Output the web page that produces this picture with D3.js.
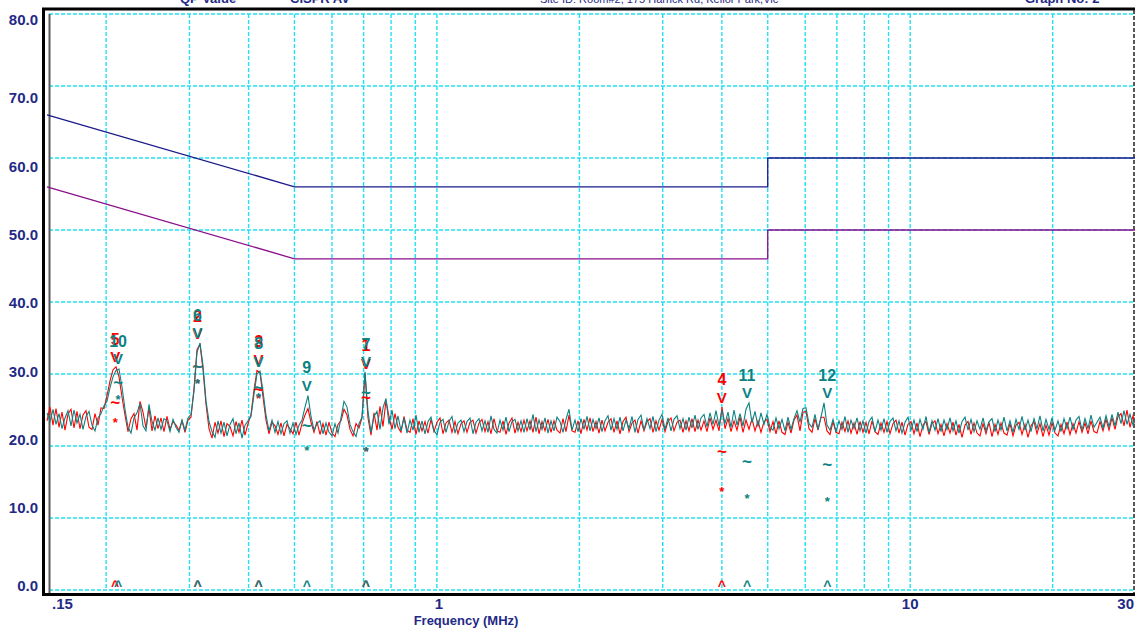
<!DOCTYPE html>
<html>
<head>
<meta charset="utf-8">
<script src="https://cdn.jsdelivr.net/npm/d3@7"></script>
<style>
  html, body { margin: 0; padding: 0; background: #ffffff; }
  svg { display: block; font-family: Arial, "Liberation Sans", sans-serif; }
</style>
</head>
<body>
<svg id="chart" width="1135" height="631"></svg>
<script>
// ---- axis ticks ----
const freqTicks = [0.15, 1, 10, 30];
const freqTickLabels = [".15", "1", "10", "30"];
const freqGrid = [0.2, 0.3, 0.4, 0.5, 0.6, 0.7, 0.8, 0.9, 1, 2, 3, 4, 5, 6, 7, 8, 9, 10, 20];
const levelTicks = [0, 10, 20, 30, 40, 50, 60, 70, 80];
const levelTickLabels = ["0.0", "10.0", "20.0", "30.0", "40.0", "50.0", "60.0", "70.0", "80.0"];

// ---- header captions ----
const headerTexts = ["QP Value", "CISPR AV", "Site ID: Room#2, 175 Harrick Rd, Keilor Park,Vic", "Graph No: 2"];

// ---- CISPR limit lines (MHz, dBuV) ----
const limitFreq = [0.15, 0.5, 5, 5, 30];
const qpLimit = [66, 56, 56, 60, 60];
const avLimit = [56, 46, 46, 50, 50];

// ---- sweep: 364 log-spaced points from 0.15 MHz to 30 MHz ----
const sweepStart = 0.15, sweepStop = 30;

const traceRed = [
  23.5, 25.4, 22.9, 25.2, 22.6, 24.7, 22.2, 24.4, 25.1, 22.5, 24.8, 22.4, 24.3, 24.9, 22.6, 22.3, 24.5, 22.9, 25.3, 25.2,
  27.0, 29.0, 30.6, 31.0, 29.6, 26.8, 24.3, 22.0, 23.8, 24.5, 22.2, 26.2, 24.7, 22.5, 25.3, 22.1, 24.2, 22.4, 23.9, 22.0,
  24.1, 22.3, 23.4, 22.9, 22.2, 23.5, 21.9, 23.6, 24.0, 28.0, 33.4, 34.1, 30.6, 25.8, 22.4, 21.1, 23.3, 21.8, 23.5, 21.3,
  23.1, 22.7, 21.4, 23.4, 21.9, 23.6, 21.5, 23.1, 24.4, 27.8, 30.5, 30.2, 26.8, 23.6, 21.7, 23.3, 22.8, 21.6, 23.2, 21.4,
  23.0, 22.4, 21.7, 23.3, 21.5, 23.1, 24.3, 25.2, 23.3, 21.9, 23.4, 21.6, 23.1, 21.5, 23.3, 21.8, 21.3, 23.0, 23.5, 25.1,
  24.3, 22.3, 21.4, 23.1, 22.5, 23.9, 30.1, 23.9, 21.5, 24.6, 22.2, 25.5, 22.7, 26.3, 24.1, 22.3, 24.5, 22.6, 21.9, 24.1,
  22.2, 21.9, 23.8, 21.6, 23.5, 22.1, 23.4, 21.8, 23.7, 22.0, 23.3, 23.9, 21.7, 23.2, 23.6, 21.9, 23.4, 21.7, 23.1, 23.5,
  21.9, 23.3, 23.6, 21.8, 23.2, 23.7, 22.0, 23.4, 21.7, 23.8, 22.1, 21.9, 23.5, 21.6, 23.2, 23.9, 21.8, 23.3, 22.0, 23.6,
  22.1, 23.5, 21.9, 24.0, 21.7, 23.4, 22.1, 23.7, 21.9, 23.5, 22.2, 21.8, 23.8, 22.0, 24.3, 22.1, 21.9, 23.5, 21.7, 23.7,
  22.2, 23.9, 22.0, 23.4, 21.8, 23.6, 22.1, 23.3, 23.8, 21.9, 23.5, 21.7, 23.4, 24.0, 22.0, 23.2, 23.6, 21.8, 23.5, 22.1,
  23.4, 23.8, 21.9, 23.5, 22.2, 23.7, 22.0, 23.4, 23.9, 22.1, 23.3, 23.6, 21.9, 23.5, 22.1, 23.8, 22.0, 23.6, 22.2, 23.5,
  22.0, 23.9, 22.3, 23.6, 22.1, 25.4, 22.4, 23.8, 22.0, 23.5, 22.2, 24.0, 21.9, 23.6, 22.3, 23.8, 22.1, 23.5, 21.9, 23.4,
  23.7, 22.0, 23.4, 21.7, 23.5, 21.9, 21.6, 23.3, 21.8, 23.6, 24.3, 22.1, 24.7, 24.8, 22.4, 21.9, 23.8, 22.2, 24.0, 24.0,
  22.1, 21.6, 23.4, 21.9, 21.7, 23.3, 22.0, 23.5, 21.8, 23.2, 21.6, 23.4, 21.9, 23.3, 21.7, 23.5, 22.0, 21.6, 23.2, 21.9,
  23.4, 21.7, 23.1, 23.6, 21.8, 23.3, 21.5, 23.0, 23.4, 21.7, 23.2, 21.3, 22.9, 23.4, 21.6, 23.1, 23.5, 21.7, 23.0, 21.4,
  23.1, 21.8, 23.3, 21.5, 23.0, 21.2, 22.9, 23.4, 21.6, 23.2, 21.8, 21.4, 23.1, 21.7, 23.3, 21.3, 23.0, 21.6, 23.2, 21.8,
  21.5, 23.1, 21.4, 22.9, 23.3, 21.6, 23.0, 21.2, 22.8, 23.4, 21.7, 23.1, 21.3, 22.9, 21.5, 23.2, 21.8, 21.4, 23.0, 21.7,
  23.3, 21.6, 23.1, 21.8, 23.4, 21.9, 23.2, 21.7, 23.5, 22.0, 21.8, 23.4, 22.1, 23.7, 22.2, 23.9, 22.3, 24.1, 24.5, 22.8,
  25.0, 22.6, 24.2, 22.7
];

const traceTeal = [
  24.6, 23.4, 25.1, 23.0, 24.5, 22.4, 23.9, 24.9, 22.8, 25.0, 23.2, 24.4, 22.3, 24.1, 24.8, 22.9, 22.1, 23.9, 24.5, 25.6,
  26.2, 28.1, 29.6, 30.5, 30.7, 28.2, 25.1, 22.6, 21.8, 23.9, 24.6, 25.9, 22.8, 22.1, 25.8, 23.4, 22.2, 23.9, 22.3, 23.8,
  23.5, 22.0, 23.7, 22.6, 21.9, 23.6, 22.2, 23.9, 24.4, 27.6, 33.0, 34.3, 31.2, 26.3, 23.4, 22.0, 21.2, 23.5, 21.8, 23.3,
  21.4, 23.0, 23.8, 21.7, 23.2, 21.1, 22.9, 23.5, 24.1, 27.2, 30.0, 30.4, 27.6, 24.3, 22.1, 23.6, 21.9, 23.4, 21.7, 23.1,
  23.5, 21.8, 23.2, 21.6, 22.9, 23.6, 25.4, 27.0, 24.1, 22.2, 23.1, 23.5, 21.7, 23.2, 21.9, 21.4, 23.1, 21.8, 23.9, 26.2,
  25.4, 23.0, 22.0, 21.3, 23.1, 24.0, 30.3, 24.8, 21.9, 24.1, 24.8, 22.3, 25.3, 26.6, 23.0, 25.0, 22.4, 24.2, 22.1, 23.9,
  21.8, 23.6, 22.2, 24.3, 21.9, 23.5, 21.7, 23.4, 24.0, 22.1, 21.6, 23.3, 23.7, 21.9, 23.4, 24.1, 21.8, 23.2, 23.6, 22.0,
  23.4, 23.9, 21.7, 23.3, 23.8, 22.1, 23.5, 21.9, 24.2, 22.3, 21.8, 23.6, 22.2, 24.0, 22.0, 23.4, 23.7, 22.1, 23.5, 21.9,
  23.8, 22.2, 24.4, 22.0, 23.6, 22.3, 23.9, 21.8, 23.5, 22.1, 24.0, 23.4, 21.9, 23.7, 25.1, 22.2, 23.6, 22.0, 23.8, 22.3,
  24.1, 22.1, 23.7, 22.4, 23.9, 22.0, 23.5, 24.2, 22.2, 23.8, 22.3, 24.0, 22.1, 23.6, 22.4, 24.1, 21.9, 23.7, 24.3, 22.2,
  23.8, 22.4, 24.1, 22.0, 23.6, 24.4, 22.3, 23.9, 22.1, 23.7, 24.2, 22.4, 23.8, 22.2, 24.0, 22.5, 24.3, 22.3, 23.9, 24.4,
  22.7, 24.6, 23.0, 24.9, 22.8, 25.0, 23.1, 24.7, 22.6, 25.0, 22.9, 24.5, 22.8, 25.1, 26.0, 23.2, 24.8, 22.7, 24.6, 23.0,
  24.4, 22.6, 22.2, 23.9, 22.4, 23.7, 22.1, 24.0, 22.3, 23.8, 24.9, 23.3, 25.2, 25.3, 23.1, 22.6, 24.4, 22.3, 24.0, 26.0,
  22.9, 22.2, 23.7, 22.0, 23.5, 22.3, 24.1, 21.9, 23.6, 22.4, 23.9, 22.1, 23.5, 21.8, 23.4, 24.0, 22.0, 23.6, 22.2, 23.8,
  21.9, 23.4, 23.9, 22.1, 23.5, 21.8, 23.3, 24.0, 22.2, 23.6, 22.0, 23.7, 22.3, 24.1, 21.9, 23.5, 22.2, 23.8, 22.0, 23.6,
  22.3, 23.9, 22.1, 23.5, 21.8, 23.4, 24.0, 22.2, 23.7, 22.0, 23.5, 22.3, 23.9, 22.1, 23.4, 23.8, 22.0, 23.6, 22.2, 24.0,
  22.1, 23.5, 21.9, 23.7, 22.3, 24.1, 22.2, 23.6, 22.0, 23.8, 22.4, 24.2, 22.1, 23.7, 22.3, 23.9, 22.2, 23.5, 22.0, 23.8,
  22.4, 24.0, 22.3, 23.6, 24.1, 22.2, 23.8, 22.4, 24.3, 22.6, 23.3, 24.0, 22.5, 24.2, 22.7, 24.4, 22.8, 24.7, 23.1, 24.9,
  23.0, 24.4, 22.9, 24.3
];

// ---- peak markers: id, frequency (MHz), peak, quasi-peak and average (dBuV) ----
const redMarkerIds  = ["5", "2", "3", "1", "4"];
const redMarkerFreq = [0.209, 0.312, 0.420, 0.708, 4.00];
const redMarkerPeak = [31.0, 34.2, 30.6, 30.1, 25.4];
const redMarkerQP   = [26.1, 31.0, 27.9, 26.8, 19.3];
const redMarkerAV   = [23.7, 29.2, 27.1, 19.7, 14.2];

const tealMarkerIds  = ["10", "6", "8", "9", "7", "11", "12"];
const tealMarkerFreq = [0.212, 0.312, 0.420, 0.531, 0.708, 4.52, 6.68];
const tealMarkerPeak = [30.7, 34.3, 30.4, 27.0, 30.3, 26.0, 26.0];
const tealMarkerQP   = [28.9, 31.1, 28.1, 22.8, 27.5, 17.8, 17.5];
const tealMarkerAV   = [26.9, 29.2, 27.2, 19.9, 19.7, 13.2, 12.8];

// ---- layout ----
const W = 1135, H = 631;
const plot = { left: 47, right: 1136, top: 14, bottom: 590 };
const navy = "#1f2a86";
const gridColor = "#22e2f2";
const redColor = "#ff0000";
const tealColor = "#0a8282";

const svg = d3.select("#chart");

const x = d3.scaleLog().domain([sweepStart, sweepStop]).range([plot.left, plot.right]);
const y = d3.scaleLinear().domain([0, 80]).range([plot.bottom, plot.top]);
// level captions sit on their own spacing along the left margin
const yLabel = d3.scaleLinear().domain([0, 10, 70, 80]).range([586, 508, 98, 20]);

const sweepFreq = (n) => d3.range(n).map(i => sweepStart * Math.pow(sweepStop / sweepStart, i / (n - 1)));

// header captions (mostly above the window edge)
const headerX = [180, 290, 540, 1025];
const headerSize = [13, 13, 11, 13];
svg.selectAll("text.header").data(headerTexts).join("text")
  .attr("class", "header")
  .attr("x", (d, i) => headerX[i]).attr("y", 3)
  .attr("font-size", (d, i) => headerSize[i])
  .attr("font-weight", (d, i) => i === 2 ? "normal" : "bold")
  .attr("fill", navy)
  .text(d => d);

// grid
const gridG = svg.append("g").attr("stroke", gridColor).attr("stroke-width", 1.4).attr("stroke-dasharray", "4,2");
gridG.selectAll("line.h").data(levelTicks).join("line")
  .attr("x1", plot.left + 2).attr("x2", W)
  .attr("y1", d => y(d)).attr("y2", d => y(d));
gridG.selectAll("line.v").data(freqGrid).join("line")
  .attr("x1", d => x(d)).attr("x2", d => x(d))
  .attr("y1", plot.top).attr("y2", plot.bottom);

// frame
svg.append("line").attr("x1", 42).attr("x2", W).attr("y1", 9).attr("y2", 9).attr("stroke", "#000").attr("stroke-width", 3);
svg.append("line").attr("x1", 43.5).attr("x2", 43.5).attr("y1", 8).attr("y2", 596).attr("stroke", "#000").attr("stroke-width", 3);
svg.append("line").attr("x1", 42).attr("x2", W).attr("y1", 594.5).attr("y2", 594.5).attr("stroke", "#000").attr("stroke-width", 3);
svg.append("line").attr("x1", 49.5).attr("x2", 49.5).attr("y1", plot.top).attr("y2", 593).attr("stroke", "#5a5a5a").attr("stroke-width", 2);
svg.append("line").attr("x1", 1134).attr("x2", 1134).attr("y1", 10).attr("y2", 593).attr("stroke", "#222").attr("stroke-width", 1.5).attr("stroke-dasharray", "4,2");

// level captions
svg.selectAll("text.ylab").data(levelTicks).join("text")
  .attr("class", "ylab")
  .attr("x", 38).attr("y", d => yLabel(d)).attr("dy", "0.36em")
  .attr("text-anchor", "end").attr("font-size", 15).attr("font-weight", "bold").attr("fill", navy)
  .text((d, i) => levelTickLabels[i]);

// frequency captions
const anchorFor = (i) => i === 0 ? "start" : (i === freqTicks.length - 1 ? "end" : "middle");
const nudge = [5, 2, 0, -2];
svg.selectAll("text.xlab").data(freqTicks).join("text")
  .attr("class", "xlab")
  .attr("x", (d, i) => x(d) + nudge[i]).attr("y", 604).attr("dy", "0.36em")
  .attr("text-anchor", (d, i) => anchorFor(i))
  .attr("font-size", 15).attr("font-weight", "bold").attr("fill", navy)
  .text((d, i) => freqTickLabels[i]);

svg.append("text").attr("x", 466).attr("y", 620).attr("dy", "0.36em")
  .attr("text-anchor", "middle").attr("font-size", 13).attr("font-weight", "bold").attr("fill", navy)
  .text("Frequency (MHz)");

// limit lines
const limitLine = d3.line().x(d => x(d[0])).y(d => y(d[1]));
svg.append("path").datum(limitFreq.map((f, i) => [f, qpLimit[i]]))
  .attr("d", limitLine).attr("fill", "none").attr("stroke", "#1a1a8a").attr("stroke-width", 1.3);
svg.append("path").datum(limitFreq.map((f, i) => [f, avLimit[i]]))
  .attr("d", limitLine).attr("fill", "none").attr("stroke", "#8a0f8a").attr("stroke-width", 1.3);

// scan traces
const traceLine = d3.line().x(d => x(d[0])).y(d => y(d[1]));
function drawTrace(values, color) {
  const f = sweepFreq(values.length);
  svg.append("path").datum(values.map((v, i) => [f[i], v]))
    .attr("d", traceLine).attr("fill", "none").attr("stroke", color).attr("stroke-width", 1.1)
    .attr("stroke-linejoin", "miter");
}
drawTrace(traceRed, redColor);
drawTrace(traceTeal, tealColor);

// markers
function drawMarkers(ids, freq, peak, qp, av, color) {
  const g = svg.append("g").attr("fill", color).attr("font-weight", "bold").attr("text-anchor", "middle");
  const rows = ids.map((id, i) => ({ id, f: freq[i], pk: peak[i], qp: qp[i], av: av[i] }));
  g.selectAll("text.num").data(rows).join("text").attr("font-size", 16)
    .attr("x", d => x(d.f)).attr("y", d => y(d.pk) - 28).attr("dy", "0.36em").text(d => d.id);
  g.selectAll("text.pk").data(rows).join("text").attr("font-size", 15)
    .attr("x", d => x(d.f)).attr("y", d => y(d.pk) - 10).attr("dy", "0.36em").text("V");
  g.selectAll("text.qp").data(rows).join("text").attr("font-size", 17)
    .attr("x", d => x(d.f)).attr("y", d => y(d.qp)).attr("dy", "0.33em").text("~");
  g.selectAll("text.av").data(rows).join("text").attr("font-size", 13)
    .attr("x", d => x(d.f)).attr("y", d => y(d.av)).attr("dy", "0.62em").text("*");
  g.selectAll("text.base").data(rows).join("text").attr("font-size", 14)
    .attr("x", d => x(d.f)).attr("y", y(0) + 1).text("^");
}
drawMarkers(redMarkerIds, redMarkerFreq, redMarkerPeak, redMarkerQP, redMarkerAV, redColor);
drawMarkers(tealMarkerIds, tealMarkerFreq, tealMarkerPeak, tealMarkerQP, tealMarkerAV, tealColor);
</script>
</body>
</html>
